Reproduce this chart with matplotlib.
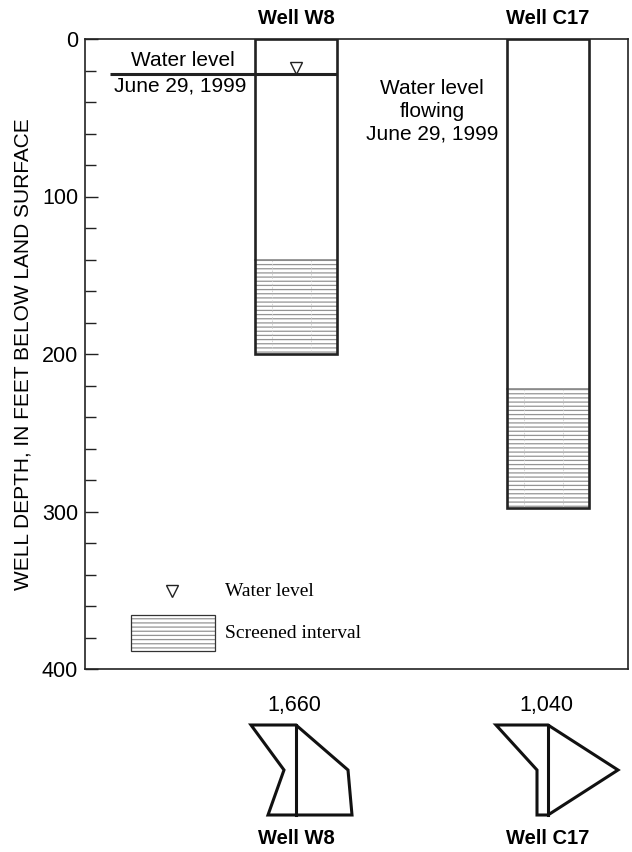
import matplotlib.pyplot as plt
from matplotlib.patches import Rectangle, Polygon
from matplotlib.ticker import MultipleLocator

plt.rcParams['font.family'] = ['Liberation Sans', 'DejaVu Sans']
plt.rcParams['hatch.linewidth'] = 0.9

# well construction, feet below land surface
wells = ["Well W8", "Well C17"]
well_depth = [200, 298]
screen_top = [140, 222]
water_level_w8 = 22

# specific conductance and Stiff diagram half-widths (cations left, anions right)
conductance = ["1,660", "1,040"]
stiff_cations = [[45, 12, 28], [52, 11, 11]]
stiff_anions = [[0, 52, 56], [0, 70, 0]]

W, H = 632, 852
fig = plt.figure(figsize=(W / 100, H / 100), dpi=100)
ax = fig.add_axes([85 / W, 1 - 669 / H, 543 / W, 630 / H])
ax.set_xlim(0, 543)
ax.set_ylim(400, 0)

well_x = [170, 422]
well_w = 82
hatch_col = "#949494"

for x, depth, top in zip(well_x, well_depth, screen_top):
    ax.add_patch(Rectangle((x, top), well_w, depth - top, fill=False,
                           hatch="----", edgecolor=hatch_col, lw=0))
    for f in (0.21, 0.68):
        ax.plot([x + f * well_w] * 2, [top, depth], color="#cfcfcf",
                lw=0.6, ls=(0, (2, 2)))
    ax.plot([x, x + well_w], [top, top], color="#888888", lw=1.2)
    ax.add_patch(Rectangle((x, 0), well_w, depth, fill=False,
                           edgecolor="#222222", lw=1.9, zorder=3))

# water level in W8
ax.plot([25, well_x[0] + well_w], [water_level_w8] * 2, color="#222222",
        lw=2.2, solid_capstyle="butt", zorder=3)
ax.plot(well_x[0] + 41, water_level_w8 - 3.6, marker="v", ms=8, mfc="white",
        mec="#222222", mew=1.0, ls="none")
ax.text(98, water_level_w8 - 2.2, "Water level", ha="center", va="bottom",
        fontsize=15)
ax.text(95, water_level_w8 + 1.8, "June 29, 1999", ha="center", va="top",
        fontsize=15)
ax.text(347, 46, "Water level\nflowing\nJune 29, 1999", ha="center",
        va="center", fontsize=15, linespacing=1.25)

# explanation
serif = ["Liberation Serif", "DejaVu Serif"]
ax.plot(87, 350.5, marker="v", ms=8, mfc="white", mec="#222222", mew=1.0,
        ls="none")
ax.text(140, 350.5, "Water level", ha="left", va="center", fontsize=14,
        family=serif)
ax.add_patch(Rectangle((46, 365.7), 84, 22.9, fill=False, hatch="----",
                       edgecolor=hatch_col, lw=0))
ax.add_patch(Rectangle((46, 365.7), 84, 22.9, fill=False,
                       edgecolor="#333333", lw=0.9))
ax.text(140, 377.5, "Screened interval", ha="left", va="center", fontsize=14,
        family=serif)

# axis styling
for s in ax.spines.values():
    s.set_linewidth(1.2)
    s.set_color("#222222")
ax.set_xticks([])
ax.yaxis.set_major_locator(MultipleLocator(100))
ax.yaxis.set_minor_locator(MultipleLocator(20))
ax.tick_params(axis="y", which="major", direction="in", length=9, width=1.0,
               labelsize=15.5, pad=5, color="#222222")
ax.tick_params(axis="y", which="minor", direction="in", length=8, width=1.0,
               color="#222222")
ax.set_ylabel("WELL DEPTH, IN FEET BELOW LAND SURFACE", fontsize=15,
              labelpad=7)

# labels and Stiff diagrams drawn in figure pixel space
ov = fig.add_axes([0, 0, 1, 1])
ov.set_xlim(0, W)
ov.set_ylim(H, 0)
ov.axis("off")

centers = [296, 548]
rows = [725, 770, 815]
for cx, name, cond, cat, an in zip(centers, wells, conductance,
                                    stiff_cations, stiff_anions):
    ov.text(cx, 18, name, ha="center", va="center", fontsize=14.5,
            fontweight="bold")
    ov.text(cx, 838, name, ha="center", va="center", fontsize=14.5,
            fontweight="bold")
    ov.text(cx - 2, 706, cond, ha="center", va="center", fontsize=15.5)
    pts = [(cx - c, r) for c, r in zip(cat, rows)]
    pts += [(cx + a, r) for a, r in zip(an[::-1], rows[::-1])]
    ov.add_patch(Polygon(pts, closed=True, fill=False, edgecolor="#111111",
                         lw=2.2, joinstyle="miter"))
    ov.plot([cx, cx], [rows[0], rows[-1]], color="#111111", lw=2.2)

fig.savefig("out.png", dpi=100)
